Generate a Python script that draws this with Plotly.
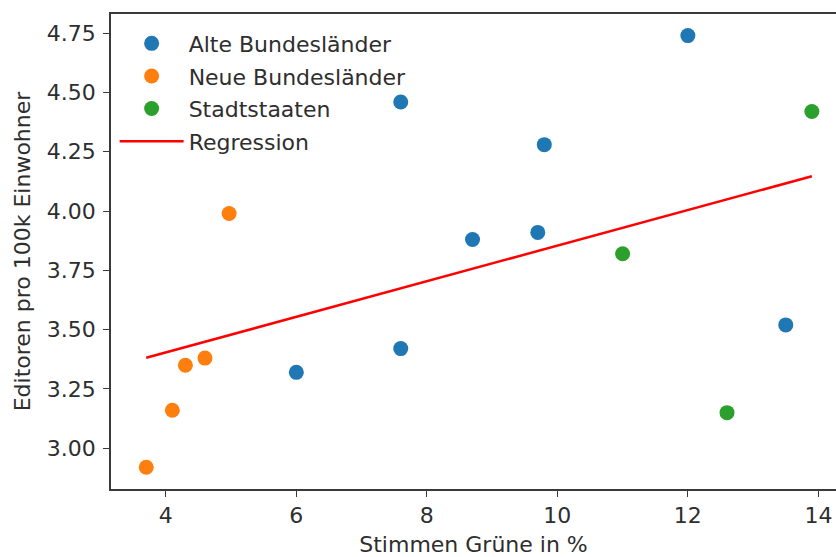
import numpy as np
import plotly.graph_objects as go

# Green vote share (%) and editors per 100k inhabitants, by group of states
alte_x = [6.0, 7.6, 7.6, 8.7, 9.7, 9.8, 12.0, 13.5]
alte_y = [3.32, 3.42, 4.46, 3.88, 3.91, 4.28, 4.74, 3.52]
neue_x = [3.7, 4.1, 4.3, 4.6, 4.97]
neue_y = [2.92, 3.16, 3.35, 3.38, 3.99]
stadt_x = [11.0, 12.6, 13.9]
stadt_y = [3.82, 3.15, 4.42]

x_ticks = [4, 6, 8, 10, 12, 14]
y_ticks = [3.00, 3.25, 3.50, 3.75, 4.00, 4.25, 4.50, 4.75]

# Linear regression over all states
all_x = np.array(alte_x + neue_x + stadt_x)
all_y = np.array(alte_y + neue_y + stadt_y)
slope, intercept = np.polyfit(all_x, all_y, 1)
reg_x = np.sort(all_x)
reg_y = slope * reg_x + intercept

FONT = "DejaVu Sans"
FS = 22
TEXT = "#2e2e2e"
AXIS = "#3a3a3a"

fig = go.Figure()

groups = [
    ("Alte Bundesländer", alte_x, alte_y, "#1f77b4"),
    ("Neue Bundesländer", neue_x, neue_y, "#ff7f0e"),
    ("Stadtstaaten", stadt_x, stadt_y, "#2ca02c"),
]
for i, (name, xs, ys, color) in enumerate(groups):
    fig.add_trace(go.Scatter(
        x=xs, y=ys, mode="markers", name=name, legendgroup=f"g{i}",
        marker=dict(color=color, size=15, line=dict(width=0)),
    ))

fig.add_trace(go.Scatter(
    x=reg_x, y=reg_y, mode="lines", name="Regression", legendgroup="reg",
    line=dict(color="#ff0000", width=2.5),
))

fig.update_layout(
    width=836, height=557,
    margin=dict(l=111, r=0, t=14, b=68),
    paper_bgcolor="white", plot_bgcolor="white",
    font=dict(family=FONT, size=FS, color=TEXT),
    legend=dict(
        x=0.005, y=0.982, xanchor="left", yanchor="top",
        bgcolor="rgba(255,255,255,0)", borderwidth=0,
        font=dict(family=FONT, size=FS, color=TEXT),
        tracegroupgap=1, itemwidth=64,
    ),
    showlegend=True,
)

fig.update_xaxes(
    range=[3.16, 14.27], tickvals=x_ticks, ticktext=[str(t) for t in x_ticks],
    showgrid=False, zeroline=False,
    showline=True, linecolor=AXIS, linewidth=1.5, mirror=True,
    ticks="outside", ticklen=6, tickwidth=1.3, tickcolor=AXIS,
    tickfont=dict(family=FONT, size=FS, color=TEXT),
    title=dict(text="Stimmen Grüne in %", font=dict(family=FONT, size=FS, color=TEXT), standoff=12),
)
fig.update_yaxes(
    range=[2.828, 4.831], tickvals=y_ticks, ticktext=[f"{t:.2f}" for t in y_ticks],
    showgrid=False, zeroline=False,
    showline=True, linecolor=AXIS, linewidth=1.5, mirror=False,
    ticks="outside", ticklen=6, tickwidth=1.3, tickcolor=AXIS,
    tickfont=dict(family=FONT, size=FS, color=TEXT), ticklabelstandoff=3,
    title=dict(text="Editoren pro 100k Einwohner", font=dict(family=FONT, size=FS, color=TEXT), standoff=10),
)

fig.write_html("out.html")
